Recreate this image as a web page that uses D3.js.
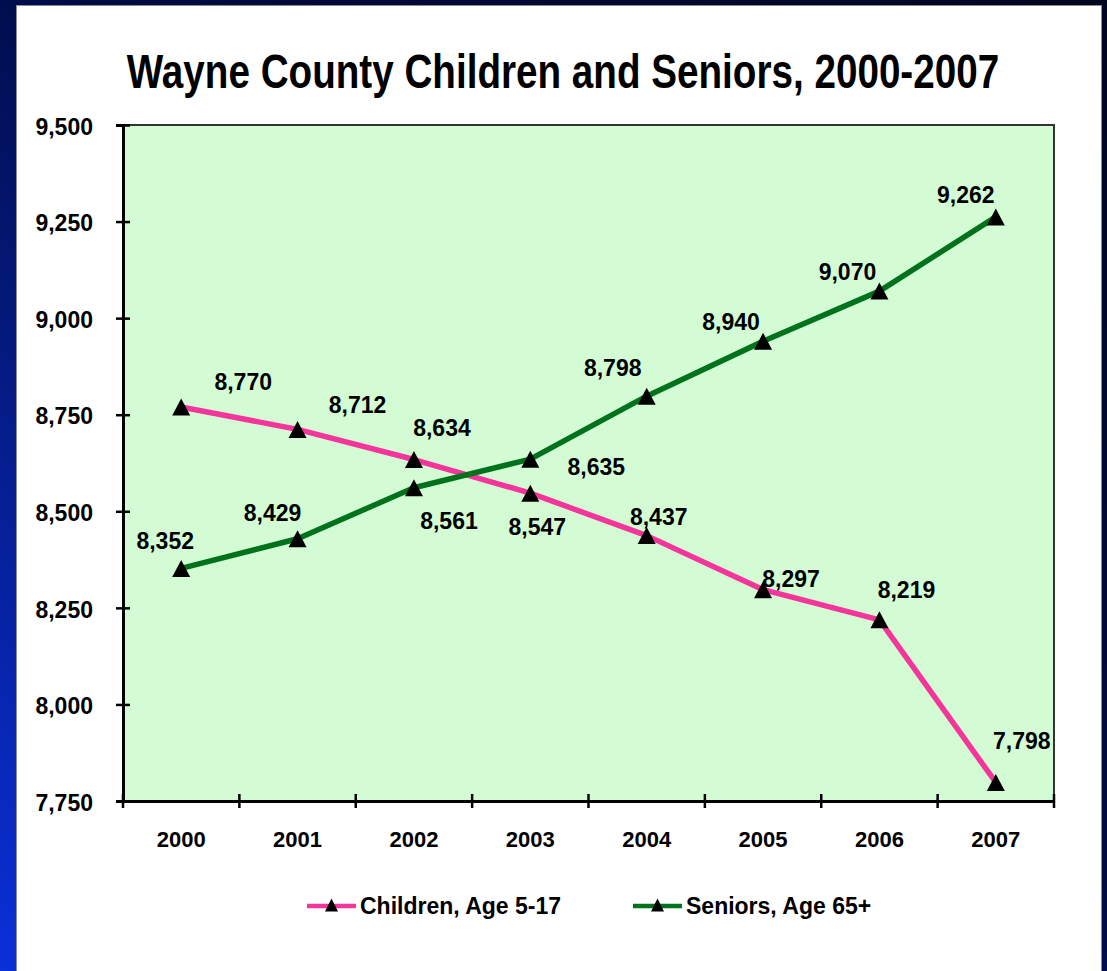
<!DOCTYPE html>
<html>
<head>
<meta charset="utf-8">
<script src="https://cdn.jsdelivr.net/npm/d3@7"></script>
<style>
  html, body { margin: 0; padding: 0; background: #000; }
  svg { display: block; font-family: Arial, "Liberation Sans", sans-serif; }
</style>
</head>
<body>
<div id="chart"></div>
<script>
// data
var years = ["2000", "2001", "2002", "2003", "2004", "2005", "2006", "2007"];
var children = [8770, 8712, 8634, 8547, 8437, 8297, 8219, 7798];
var seniors = [8352, 8429, 8561, 8635, 8798, 8940, 9070, 9262];
var yTicks = [7750, 8000, 8250, 8500, 8750, 9000, 9250, 9500];
var seriesNames = ["Children, Age 5-17", "Seniors, Age 65+"];

var W = 1107, H = 971;
var plot = { left: 123, top: 125, right: 1054, bottom: 801 };

var svg = d3.select("#chart").append("svg")
  .attr("width", W)
  .attr("height", H);

// dark blue backdrop
var defs = svg.append("defs");
var grad = defs.append("linearGradient")
  .attr("id", "bg")
  .attr("x1", "1").attr("y1", "0")
  .attr("x2", "0").attr("y2", "1");
grad.append("stop").attr("offset", "0%").attr("stop-color", "#000520");
grad.append("stop").attr("offset", "45%").attr("stop-color", "#000a40");
grad.append("stop").attr("offset", "100%").attr("stop-color", "#0a30d8");
svg.append("rect").attr("width", W).attr("height", H).attr("fill", "url(#bg)");

// white panel
svg.append("rect")
  .attr("x", 16.5).attr("y", 5.5)
  .attr("width", 1085).attr("height", H)
  .attr("fill", "#ffffff")
  .attr("stroke", "#8a8a8a")
  .attr("stroke-width", 1);

// title (narrow bold face, so squeeze a normal bold one)
svg.append("g")
  .attr("transform", "translate(563,88) scale(0.805,1)")
  .append("text")
  .attr("text-anchor", "middle")
  .attr("font-size", 48)
  .attr("font-weight", "bold")
  .text("Wayne County Children and Seniors, 2000-2007");

// scales
var x = d3.scaleBand()
  .domain(years)
  .range([plot.left, plot.right]);

var y = d3.scaleLinear()
  .domain([7750, 9500])
  .range([plot.bottom, plot.top]);

// plot background + border
svg.append("rect")
  .attr("x", plot.left).attr("y", plot.top)
  .attr("width", plot.right - plot.left)
  .attr("height", plot.bottom - plot.top)
  .attr("fill", "#d4fcd4");

svg.append("path")
  .attr("d", "M" + plot.left + "," + plot.top + "H" + plot.right + "V" + plot.bottom)
  .attr("fill", "none")
  .attr("stroke", "#333333")
  .attr("stroke-width", 2);

// y axis
var yAxis = svg.append("g")
  .attr("transform", "translate(" + plot.left + ",0)")
  .call(d3.axisLeft(y).tickValues(yTicks).tickSize(7).tickPadding(23).tickFormat(d3.format(",")));
yAxis.select(".domain").attr("stroke", "#000").attr("stroke-width", 3);
yAxis.selectAll(".tick line")
  .attr("x1", 7).attr("x2", -7)
  .attr("stroke", "#000").attr("stroke-width", 2.5);
yAxis.selectAll(".tick text")
  .attr("font-size", 23).attr("font-weight", "bold").attr("fill", "#000")
  .attr("dy", "0.4em");

// x axis: ticks at category boundaries
var xAxis = svg.append("g")
  .attr("transform", "translate(0," + plot.bottom + ")")
  .call(d3.axisBottom(x).tickSize(0).tickPadding(30));
xAxis.select(".domain").attr("stroke", "#000").attr("stroke-width", 3);
xAxis.selectAll(".tick text")
  .attr("font-size", 22).attr("font-weight", "bold").attr("fill", "#000");

var bounds = years.map(function(d) { return x(d); }).concat([x(years[years.length - 1]) + x.bandwidth()]);
xAxis.selectAll(".bound")
  .data(bounds)
  .enter()
  .append("line")
  .attr("class", "bound")
  .attr("x1", function(d) { return d; })
  .attr("x2", function(d) { return d; })
  .attr("y1", -7)
  .attr("y2", 7)
  .attr("stroke", "#000")
  .attr("stroke-width", 2.5);

// series
var series = [
  { name: seriesNames[0], values: children, color: "#f4359c",
    // label offsets (dx, dy) from each point, as placed in the original
    offsets: [[62, -25], [60, -25], [28, -32], [7, 34], [12, -19], [28, -11], [27, -30], [26, -42]] },
  { name: seriesNames[1], values: seniors, color: "#00721c",
    offsets: [[-16, -28], [-25, -26], [35, 33], [66, 8], [-34, -28], [-32, -20], [-32, -19], [-30, -22]] }
];

var line = d3.line()
  .x(function(d, i) { return x(years[i]) + x.bandwidth() / 2; })
  .y(function(d) { return y(d); });

function triangle(w, h) {
  return "M0," + (-h / 2) + "L" + (w / 2) + "," + (h / 2) + "L" + (-w / 2) + "," + (h / 2) + "Z";
}

series.forEach(function(s) {
  svg.append("path")
    .datum(s.values)
    .attr("d", line)
    .attr("fill", "none")
    .attr("stroke", s.color)
    .attr("stroke-width", 5.5)
    .attr("stroke-linejoin", "round");
});

series.forEach(function(s) {
  svg.selectAll(null)
    .data(s.values)
    .enter()
    .append("path")
    .attr("d", triangle(18, 17))
    .attr("transform", function(d, i) {
      return "translate(" + (x(years[i]) + x.bandwidth() / 2) + "," + y(d) + ")";
    })
    .attr("fill", "#000");
});

series.forEach(function(s) {
  svg.selectAll(null)
    .data(s.values)
    .enter()
    .append("text")
    .attr("x", function(d, i) { return x(years[i]) + x.bandwidth() / 2 + s.offsets[i][0]; })
    .attr("y", function(d, i) { return y(d) + s.offsets[i][1]; })
    .attr("dy", "0.36em")
    .attr("text-anchor", "middle")
    .attr("font-size", 23)
    .attr("font-weight", "bold")
    .text(function(d) { return d3.format(",")(d); });
});

// legend
var legendItems = [
  { name: seriesNames[0], color: series[0].color, x: 307 },
  { name: seriesNames[1], color: series[1].color, x: 633 }
];
var legend = svg.selectAll(".legend")
  .data(legendItems)
  .enter()
  .append("g")
  .attr("class", "legend")
  .attr("transform", function(d) { return "translate(" + d.x + ",906)"; });
legend.append("line")
  .attr("x1", 0).attr("x2", 49)
  .attr("stroke", function(d) { return d.color; })
  .attr("stroke-width", 4.5);
legend.append("path")
  .attr("d", triangle(13, 13))
  .attr("transform", "translate(24.5,-1)")
  .attr("fill", "#000");
legend.append("text")
  .attr("x", 53)
  .attr("dy", "0.36em")
  .attr("font-size", 23)
  .attr("font-weight", "bold")
  .text(function(d) { return d.name; });
</script>
</body>
</html>
